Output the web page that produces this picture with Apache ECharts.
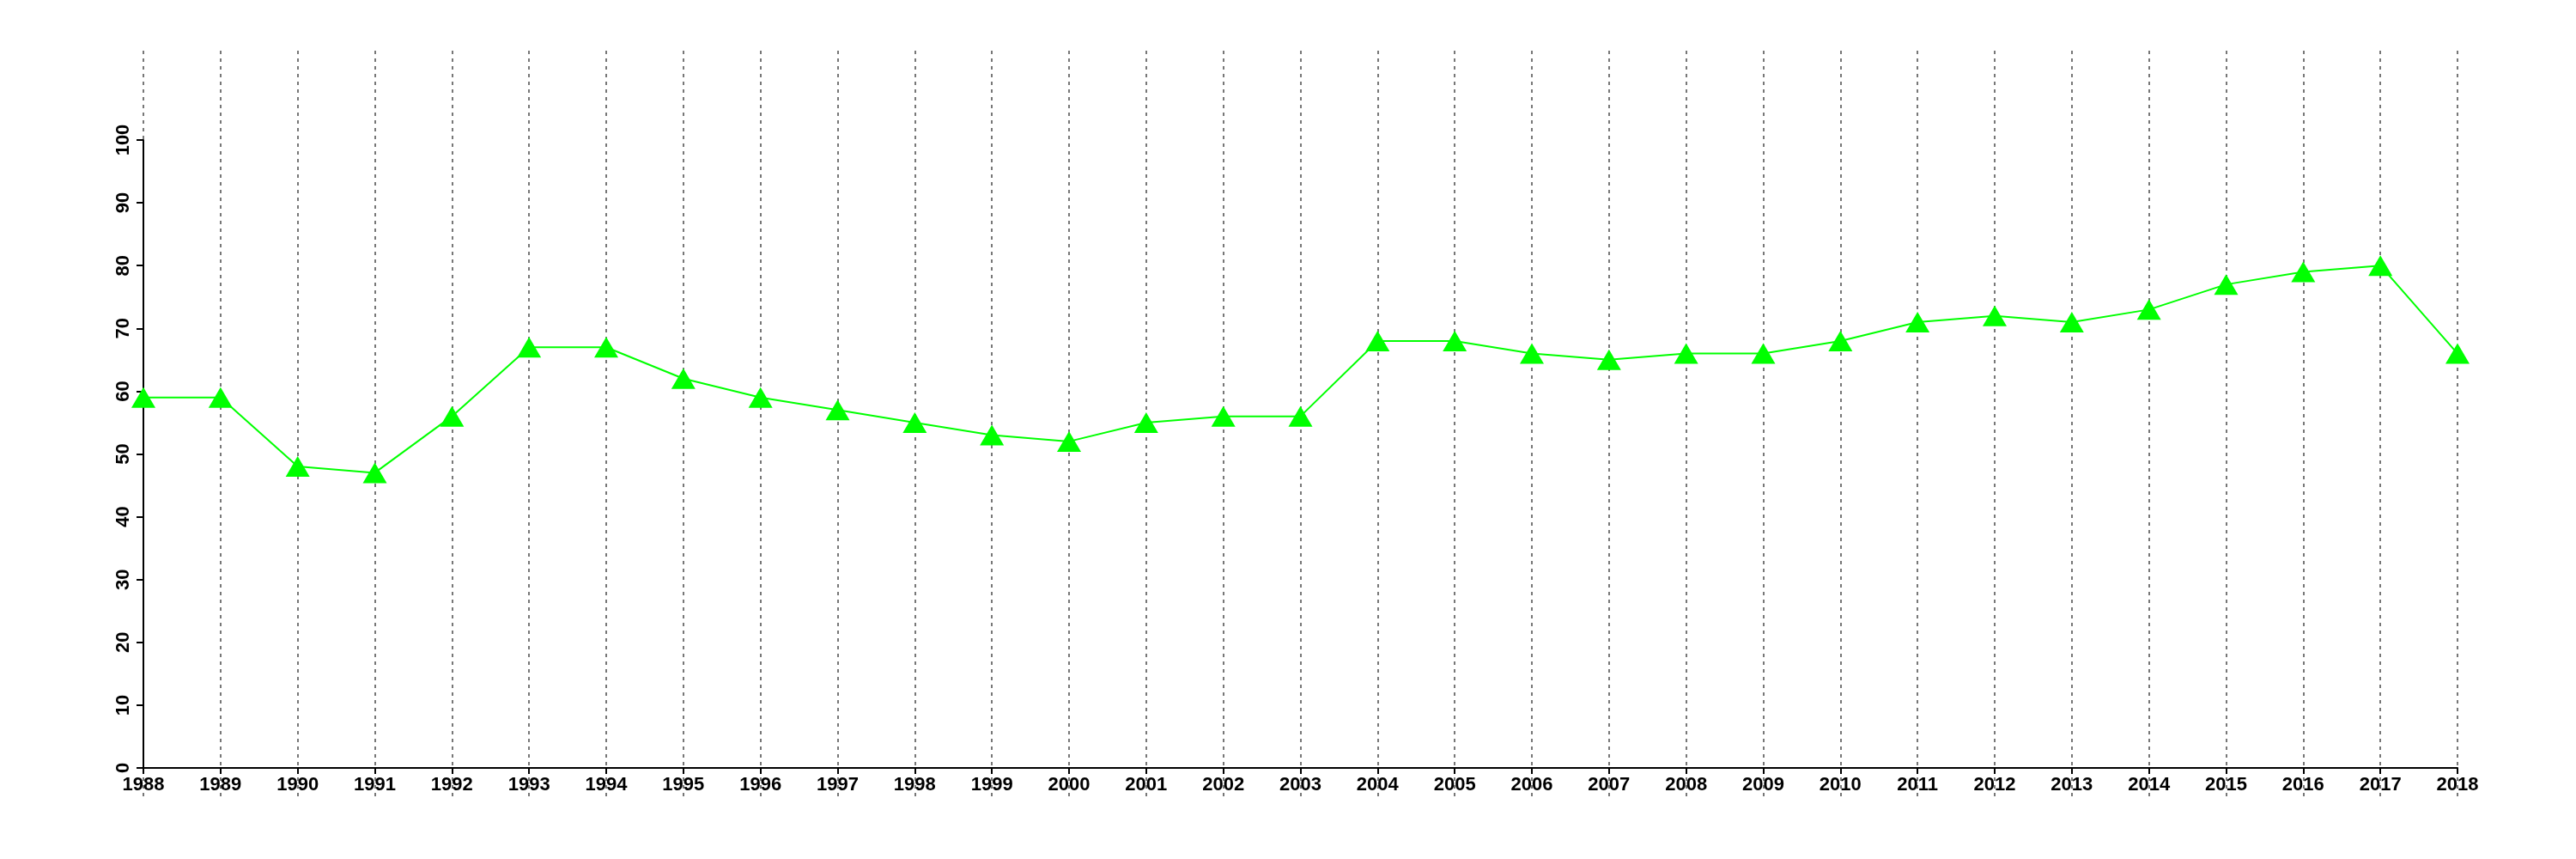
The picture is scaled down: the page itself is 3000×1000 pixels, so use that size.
<!DOCTYPE html>
<html>
<head>
<meta charset="utf-8">
<script src="https://cdn.jsdelivr.net/npm/echarts@6/dist/echarts.min.js"></script>
<style>
html,body{margin:0;padding:0;background:#fff;}
#chart{width:3000px;height:1000px;}
</style>
</head>
<body>
<div id="chart"></div>
<script>
const years = ['1988','1989','1990','1991','1992','1993','1994','1995','1996','1997','1998','1999','2000','2001','2002','2003','2004','2005','2006','2007','2008','2009','2010','2011','2012','2013','2014','2015','2016','2017','2018'];
const values = [59,59,48,47,56,67,67,62,59,57,55,53,52,55,56,56,68,68,66,65,66,66,68,71,72,71,73,77,79,80,66];
const yMin = 0, yMax = 100, yStep = 10;

const font = 'Liberation Sans, Arial, Helvetica, sans-serif';
const chart = echarts.init(document.getElementById('chart'), null, {renderer:'canvas'});
chart.setOption({
  backgroundColor:'#ffffff',
  animation:false,
  grid:[
    {left:167, right:138, top:59, bottom:73, containLabel:false},
    {left:167, right:138, top:163, bottom:106, containLabel:false}
  ],
  xAxis:[
    {gridIndex:0, type:'category', data:years, boundaryGap:false,
      axisLine:{show:false}, axisTick:{show:false}, axisLabel:{show:false},
      splitLine:{show:true, lineStyle:{color:'#777777', width:2, type:[4,5]}}},
    {gridIndex:1, type:'category', data:years, boundaryGap:false,
      axisLine:{show:true, onZero:false, lineStyle:{color:'#000', width:2}},
      axisTick:{show:true, inside:false, length:7, alignWithLabel:true, lineStyle:{color:'#000', width:2}},
      axisLabel:{show:true, interval:0, margin:9, color:'#000', fontFamily:font, fontWeight:'bold', fontSize:22},
      splitLine:{show:false}}
  ],
  yAxis:[
    {gridIndex:0, type:'value', min:0, max:1, show:false, splitLine:{show:false}},
    {gridIndex:1, type:'value', min:yMin, max:yMax, interval:yStep,
      axisLine:{show:true, lineStyle:{color:'#000', width:2}},
      axisTick:{show:true, length:8, lineStyle:{color:'#000', width:2}},
      axisLabel:{show:true, rotate:90, margin:12, color:'#000', fontFamily:font, fontWeight:'bold', fontSize:22},
      splitLine:{show:false}}
  ],
  series:[
    {type:'line', xAxisIndex:1, yAxisIndex:1, data:values,
      symbol:'triangle', symbolSize:[28,24], showAllSymbol:true,
      lineStyle:{color:'#00ff00', width:2},
      itemStyle:{color:'#00ff00'},
      z:5}
  ]
});
</script>
</body>
</html>
